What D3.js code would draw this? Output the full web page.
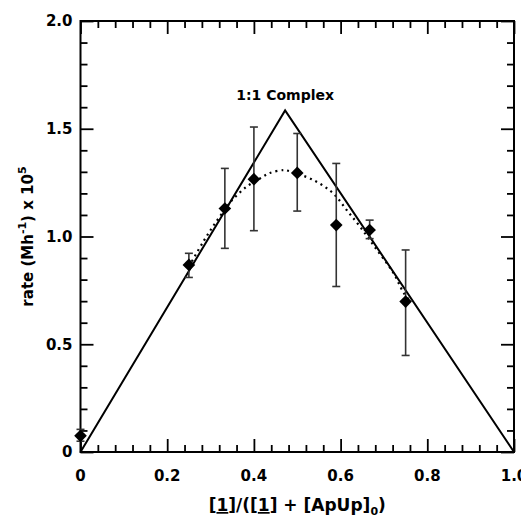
<!DOCTYPE html>
<html>
<head>
<script src="https://d3js.org/d3.v7.min.js"></script>
<style>
	body { margin: 0; background: #fff; }
	svg text { font-family: "DejaVu Sans", sans-serif; font-weight: bold; fill: #000; }
</style>
</head>
<body>
<div id="chart"></div>
<script>
	// measured points (mole fraction, rate x 1e5, error bar low/high)
	var fraction = [0, 0.25, 0.333, 0.40, 0.50, 0.59, 0.667, 0.75];
	var rate = [0.075, 0.868, 1.13, 1.266, 1.295, 1.053, 1.03, 0.698];
	var errLow = [0.05, 0.81, 0.945, 1.027, 1.118, 0.768, 0.99, 0.448];
	var errHigh = [0.105, 0.922, 1.316, 1.508, 1.478, 1.339, 1.076, 0.9375];

	// ideal 1:1 complex lines
	var idealX = [0, 0.472, 1];
	var idealY = [0, 1.585, 0];

	// dotted fit curve
	var fitX = [0.25, 0.283, 0.31, 0.335, 0.348, 0.383, 0.414, 0.437, 0.468, 0.479, 0.537, 0.583, 0.614, 0.645, 0.683, 0.722, 0.745, 0.76];
	var fitY = [0.86, 0.975, 1.06, 1.13, 1.165, 1.231, 1.269, 1.295, 1.308, 1.305, 1.262, 1.20, 1.123, 1.045, 0.94, 0.83, 0.74, 0.70];

	var xTicks = [0, 0.2, 0.4, 0.6, 0.8, 1.0];
	var xTickLabels = ["0", "0.2", "0.4", "0.6", "0.8", "1.0"];
	var yTicks = [0, 0.5, 1.0, 1.5, 2.0];
	var yTickLabels = ["0", "0.5", "1.0", "1.5", "2.0"];

	var W = 521, H = 517;
	var margin = { top: 21, right: 7, bottom: 65, left: 80.5 };
	var width = W - margin.left - margin.right,
		height = H - margin.top - margin.bottom;

	var svg = d3.select("#chart").append("svg")
		.attr("width", W)
		.attr("height", H);

	var g = svg.append("g")
		.attr("transform", "translate(" + margin.left + "," + margin.top + ")");

	var x = d3.scaleLinear().domain([0, 1]).range([0, width]);
	var y = d3.scaleLinear().domain([0, 2]).range([height, 0]);

	var xMinor = d3.range(0, 1.0001, 0.04).filter(function(v) { return Math.abs(v * 5 - Math.round(v * 5)) > 1e-6; });
	var yMinor = d3.range(0, 2.0001, 0.1).filter(function(v) { return Math.abs(v * 2 - Math.round(v * 2)) > 1e-6; });

	var majorLen = 13, minorLen = 7;

	function tickAxis(axisFn, scale, values, len, tx, ty) {
		var a = g.append("g")
			.attr("transform", "translate(" + tx + "," + ty + ")")
			.call(axisFn(scale).tickValues(values).tickSize(-len).tickFormat(""));
		a.select(".domain").remove();
		a.selectAll("line").attr("stroke", "#000").attr("stroke-width", 1.8);
		return a;
	}

	// ticks on all four sides, pointing in
	tickAxis(d3.axisBottom, x, xMinor, minorLen, 0, height);
	tickAxis(d3.axisBottom, x, xTicks, majorLen, 0, height);
	tickAxis(d3.axisTop, x, xMinor, minorLen, 0, 0);
	tickAxis(d3.axisTop, x, xTicks, majorLen, 0, 0);
	tickAxis(d3.axisLeft, y, yMinor, minorLen, 0, 0);
	tickAxis(d3.axisLeft, y, yTicks, majorLen, 0, 0);
	tickAxis(d3.axisRight, y, yMinor, minorLen, width, 0);
	tickAxis(d3.axisRight, y, yTicks, majorLen, width, 0);

	// frame
	g.append("rect")
		.attr("width", width)
		.attr("height", height)
		.attr("fill", "none")
		.attr("stroke", "#000")
		.attr("stroke-width", 2);

	// tick labels
	g.selectAll("text.xlab")
		.data(xTicks)
		.enter().append("text")
		.attr("class", "xlab")
		.attr("x", function(d) { return x(d); })
		.attr("y", height + 29)
		.attr("text-anchor", "middle")
		.style("font-size", "15px")
		.text(function(d, i) { return xTickLabels[i]; });

	g.selectAll("text.ylab")
		.data(yTicks)
		.enter().append("text")
		.attr("class", "ylab")
		.attr("x", -8)
		.attr("y", function(d) { return y(d); })
		.attr("dy", "0.36em")
		.attr("text-anchor", "end")
		.style("font-size", "15px")
		.text(function(d, i) { return yTickLabels[i]; });

	// axis titles
	var xt = svg.append("text")
		.attr("x", margin.left + width / 2)
		.attr("y", 511)
		.attr("text-anchor", "middle")
		.style("font-size", "17px");
	xt.append("tspan").text("[");
	xt.append("tspan").text("1").style("text-decoration", "underline");
	xt.append("tspan").text("]/([");
	xt.append("tspan").text("1").style("text-decoration", "underline");
	xt.append("tspan").text("] + [ApUp]");
	xt.append("tspan").text("0").attr("dy", 4).style("font-size", "11px");
	xt.append("tspan").text(")").attr("dy", -4);

	var yt = svg.append("text")
		.attr("transform", "translate(33," + (margin.top + height / 2) + ") rotate(-90)")
		.attr("text-anchor", "middle")
		.style("font-size", "15px");
	yt.append("tspan").text("rate (Mh");
	yt.append("tspan").text("-1").attr("dy", -7).style("font-size", "11px");
	yt.append("tspan").text(") x 10").attr("dy", 7);
	yt.append("tspan").text("5").attr("dy", -7).style("font-size", "11px");

	// ideal complex lines
	var line = d3.line()
		.x(function(d) { return x(d[0]); })
		.y(function(d) { return y(d[1]); });

	g.append("path")
		.datum(d3.zip(idealX, idealY))
		.attr("d", line)
		.attr("fill", "none")
		.attr("stroke", "#000")
		.attr("stroke-width", 2);

	// dotted fit
	g.append("path")
		.datum(d3.zip(fitX, fitY))
		.attr("d", line.curve(d3.curveCatmullRom))
		.attr("fill", "none")
		.attr("stroke", "#000")
		.attr("stroke-width", 2.2)
		.attr("stroke-dasharray", "2,4");

	g.append("text")
		.attr("x", x(0.472))
		.attr("y", y(1.585) - 10)
		.attr("text-anchor", "middle")
		.style("font-size", "14px")
		.text("1:1 Complex");

	// error bars
	var pts = fraction.map(function(f, i) {
		return { x: f, y: rate[i], lo: errLow[i], hi: errHigh[i] };
	});
	var capW = 4;
	var eb = g.selectAll("g.err")
		.data(pts)
		.enter().append("g")
		.attr("class", "err")
		.attr("stroke", "#333")
		.attr("stroke-width", 1.6);
	eb.append("line")
		.attr("x1", function(d) { return x(d.x); })
		.attr("x2", function(d) { return x(d.x); })
		.attr("y1", function(d) { return y(d.lo); })
		.attr("y2", function(d) { return y(d.hi); });
	eb.append("line")
		.attr("x1", function(d) { return x(d.x) - capW; })
		.attr("x2", function(d) { return x(d.x) + capW; })
		.attr("y1", function(d) { return y(d.lo); })
		.attr("y2", function(d) { return y(d.lo); });
	eb.append("line")
		.attr("x1", function(d) { return x(d.x) - capW; })
		.attr("x2", function(d) { return x(d.x) + capW; })
		.attr("y1", function(d) { return y(d.hi); })
		.attr("y2", function(d) { return y(d.hi); });

	// diamonds
	g.selectAll("path.pt")
		.data(pts)
		.enter().append("path")
		.attr("class", "pt")
		.attr("d", d3.symbol().type(d3.symbolSquare).size(80))
		.attr("transform", function(d) {
			return "translate(" + x(d.x) + "," + y(d.y) + ") rotate(45)";
		})
		.attr("fill", "#000");
</script>
</body>
</html>
